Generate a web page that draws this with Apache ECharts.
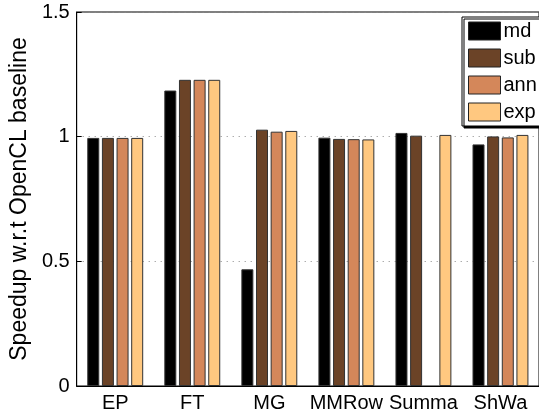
<!DOCTYPE html>
<html>
<head>
<meta charset="utf-8">
<script src="https://cdn.jsdelivr.net/npm/echarts@6/dist/echarts.min.js"></script>
<style>
  html, body { margin: 0; padding: 0; background: #fff; }
  #chart { width: 539px; height: 414px; }
</style>
</head>
<body>
<div id="chart"></div>
<script>
// benchmarks
const categories = ["EP", "FT", "MG", "MMRow", "Summa", "ShWa"];

// speedup values per variant
const mdValues  = [0.995, 1.185, 0.468, 0.996, 1.015, 0.969];
const subValues = [0.995, 1.228, 1.028, 0.991, 1.004, 1.001];
const annValues = [0.995, 1.228, 1.020, 0.990, null,  0.997];
const expValues = [0.995, 1.228, 1.023, 0.989, 1.007, 1.007];

const seriesNames = ["md", "sub", "ann", "exp"];
const colors = ["#000000", "#6b4327", "#d4875a", "#ffc880"];
const yTicks = { min: 0, max: 1.5, step: 0.5 };

const chart = echarts.init(document.getElementById("chart"));
const font = "'Liberation Sans', Arial, Helvetica, sans-serif";

const makeSeries = (name, data, i) => ({
  name: name,
  type: "bar",
  data: data,
  barWidth: 12,
  barGap: "22%",
  itemStyle: {
    color: colors[i],
    borderColor: "#333",
    borderWidth: 1,
  },
});

const option = {
  animation: false,
  textStyle: { fontFamily: font },
  grid: {
    left: 72,
    top: 12,
    width: 477,
    height: 374,
    show: true,
    borderColor: "#000",
    borderWidth: 1,
  },
  legend: {
    orient: "vertical",
    left: 462,
    top: 17,
    padding: [4, 30, 4, 6],
    itemWidth: 32,
    itemHeight: 18,
    itemGap: 7,
    icon: "rect",
    backgroundColor: "#fff",
    borderColor: "#000",
    borderWidth: 1,
    shadowColor: "#000",
    shadowBlur: 0,
    shadowOffsetX: 2,
    shadowOffsetY: 2,
    textStyle: { fontSize: 20, color: "#000", fontFamily: font, padding: [0, 0, 0, -2] },
    itemStyle: { borderColor: "#222", borderWidth: 1 },
    data: seriesNames,
  },
  xAxis: [
    {
      type: "category",
      data: categories,
      axisLine: { lineStyle: { color: "#000", width: 1 } },
      axisTick: { inside: true, length: 5, alignWithLabel: true, lineStyle: { color: "#000" } },
      axisLabel: { fontSize: 20, color: "#000", margin: 7, interval: 0, fontFamily: font },
    },
    {
      type: "category",
      data: categories,
      position: "top",
      axisLine: { show: false },
      axisTick: { inside: true, length: 5, alignWithLabel: true, lineStyle: { color: "#000" } },
      axisLabel: { show: false },
    },
  ],
  yAxis: {
    type: "value",
    min: yTicks.min,
    max: yTicks.max,
    interval: yTicks.step,
    name: "Speedup w.r.t OpenCL baseline",
    nameLocation: "middle",
    nameGap: 40,
    nameTextStyle: { fontSize: 23, color: "#000", fontFamily: font },
    axisLine: { show: true, lineStyle: { color: "#000", width: 1 } },
    axisTick: { show: true, inside: true, length: 5, lineStyle: { color: "#000" } },
    axisLabel: { fontSize: 20, color: "#000", margin: 7, fontFamily: font },
    splitLine: { show: true, lineStyle: { type: [1, 5], color: "#888", width: 1 } },
  },
  series: [
    makeSeries("md", mdValues, 0),
    makeSeries("sub", subValues, 1),
    makeSeries("ann", annValues, 2),
    makeSeries("exp", expValues, 3),
  ],
};

chart.setOption(option);
</script>
</body>
</html>
